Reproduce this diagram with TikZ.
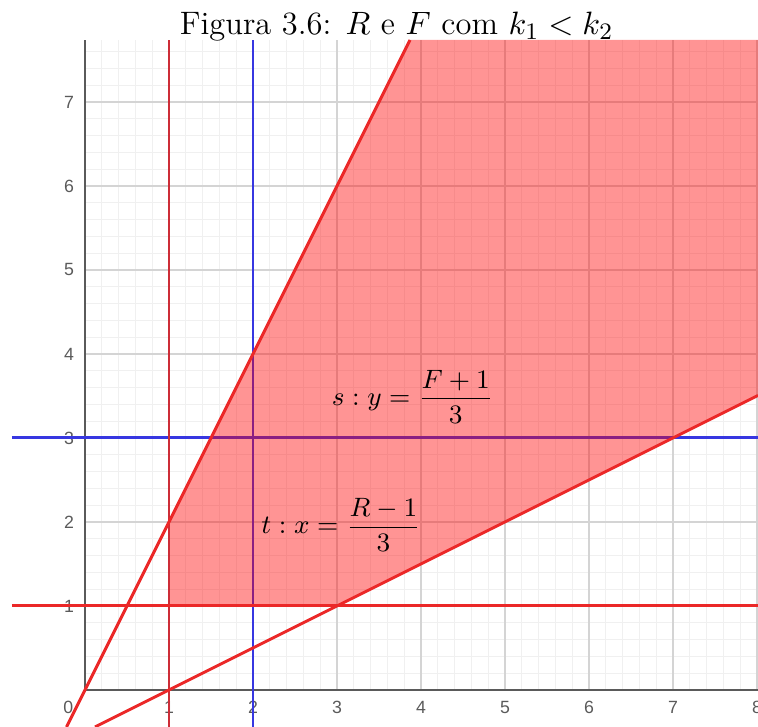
\documentclass[tikz,border=0pt]{standalone}
\usepackage{fontspec}
\newfontfamily\ticksf{Liberation Sans}
\usetikzlibrary{positioning}
\definecolor{gridminor}{RGB}{240,240,240}
\definecolor{gridmajor}{RGB}{212,212,212}
\definecolor{axisgray}{RGB}{90,90,90}
\definecolor{linered}{RGB}{235,40,40}
\definecolor{darkred}{RGB}{205,45,55}
\definecolor{lineblue}{RGB}{55,55,225}

\begin{document}
\begin{tikzpicture}[
    x=1cm, y=1cm,
    minorgrid/.style={gridminor, line width=0.3pt},
    majorgrid/.style={gridmajor, line width=0.4pt},
    axisline/.style={axisgray, line width=0.6pt},
    redline/.style={linered, line width=1pt},
    blueline/.style={lineblue, line width=1pt},
    region/.style={fill=red, fill opacity=0.42},
    ticklabel/.style={font=\ticksf\fontsize{6}{7}\selectfont, text=axisgray, inner sep=0pt},
    eqlabel/.style={font=\fontsize{9}{11}\selectfont, inner sep=0pt}
]
\useasboundingbox (-1.012,-0.44) rectangle (8.012,8.214);
% grid (first quadrant only)
\draw[minorgrid] (0,0) grid[step=0.2] (8.012,7.738);
\draw[majorgrid] (0,0) grid[step=1] (8.012,7.738);
\draw[axisline] (0,0) -- (8.012,0);
\draw[axisline] (0,0) -- (0,7.738);
% tick labels
\node[ticklabel] (lbl0) at (-0.2,-0.21) {0};
\foreach \i in {1,...,8}
    \node[ticklabel] (xl\i) at (\i,-0.21) {\i};
\foreach \i in {1,...,7}
    \node[ticklabel] (yl\i) at (-0.19,\i) {\i};
% blue lines s and t
\draw[blueline] (2,-0.44) -- (2,7.738);
\draw[blueline] (-0.87,3) -- (8.012,3);
% shaded region
\path[region] (1,1) -- (1,2) -- (3.869,7.738) -- (8.012,7.738) -- (8.012,3.506) -- (3,1) -- cycle;
% red lines
\draw[redline, darkred] (1,-0.44) -- (1,7.738);
\draw[redline] (-0.87,1) -- (8.012,1);
\draw[redline] (-0.22,-0.44) -- (3.869,7.738);
\draw[redline] (0.12,-0.44) -- (8.012,3.506);
% labels
\node[eqlabel] (eqs) at (3.9,3.49) {$\displaystyle s : y = \frac{F+1}{3}$};
\node[eqlabel] (eqt) at (3.05,1.96) {$\displaystyle t : x = \frac{R-1}{3}$};
\node[anchor=base, font=\fontsize{11}{13}\selectfont, inner sep=0pt] (title) at (3.71,7.80) {Figura 3.6: $R$ e $F$ com $k_1 < k_2$};
\end{tikzpicture}
\end{document}
